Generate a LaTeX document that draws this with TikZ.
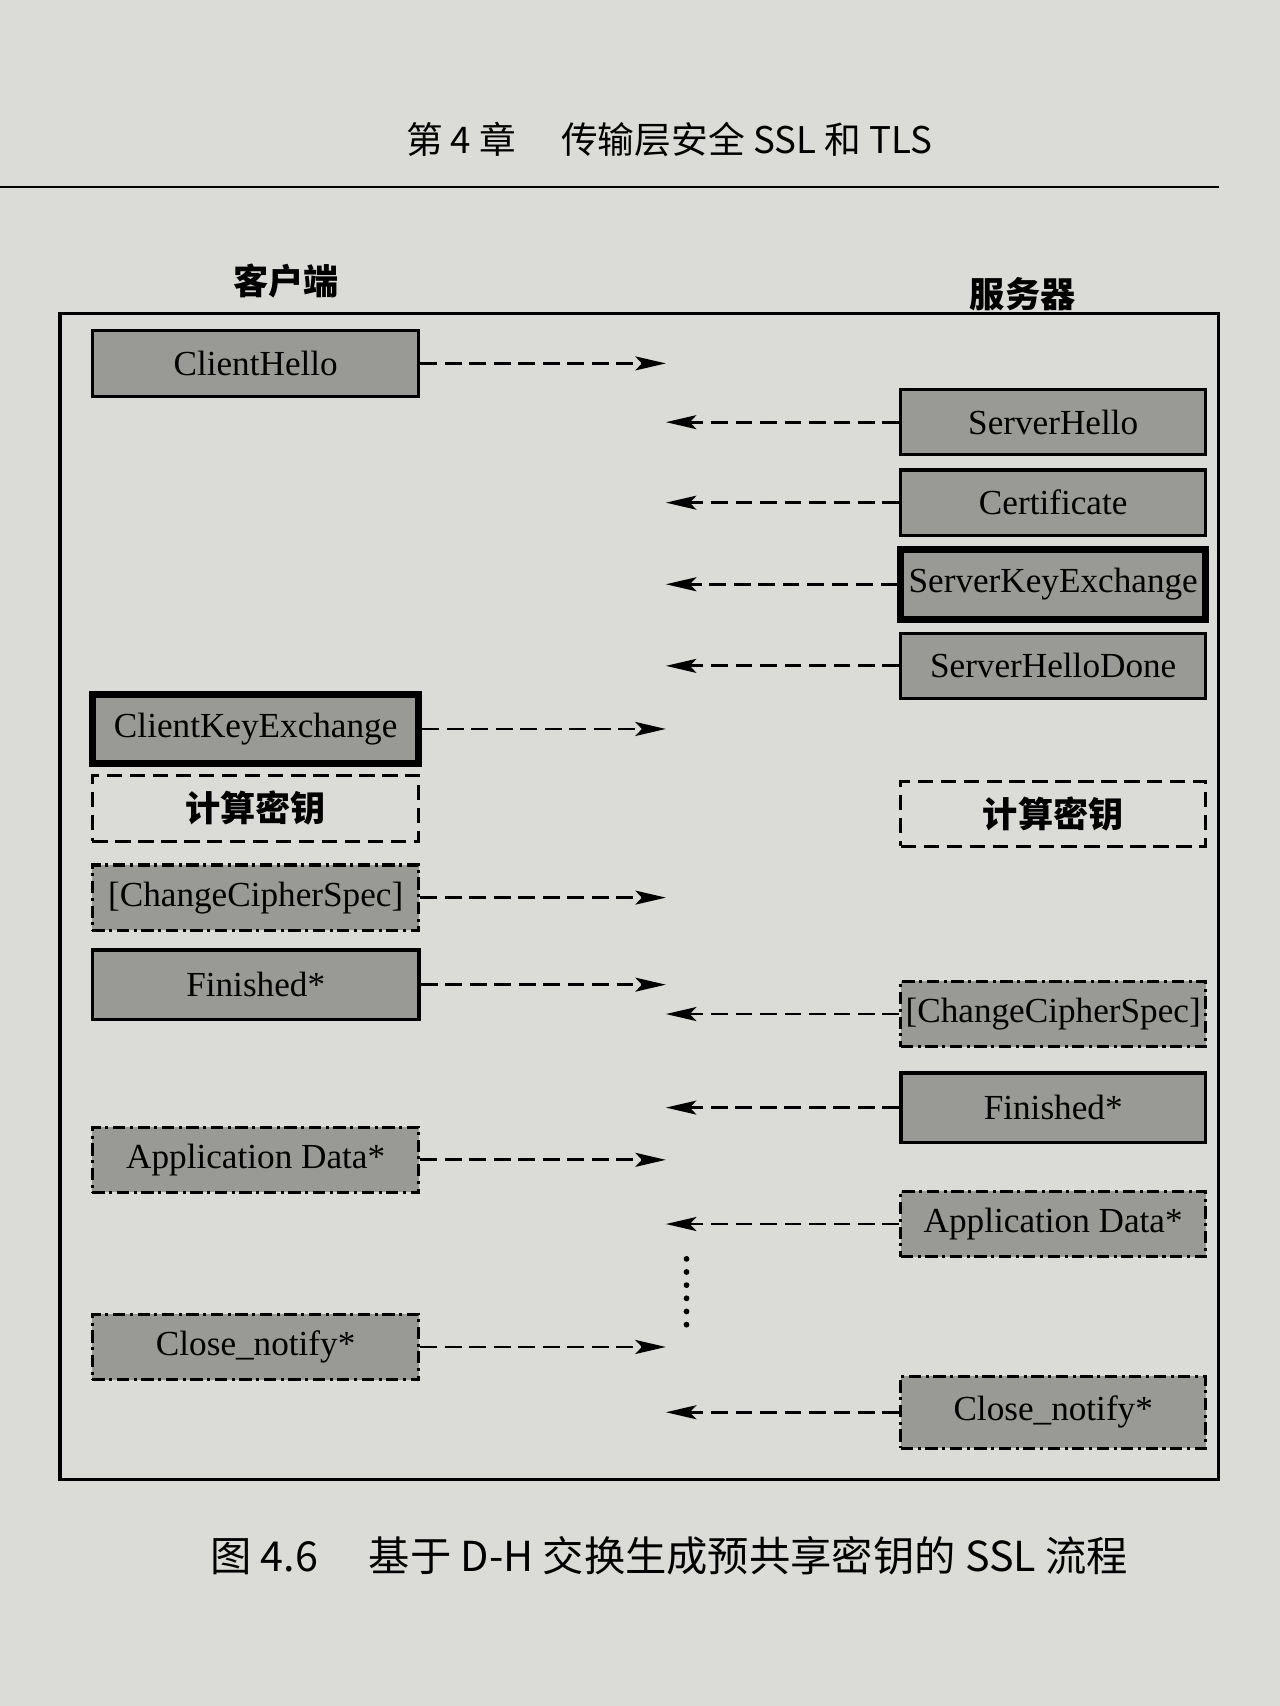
\documentclass[tikz,border=0pt]{standalone}
\usepackage{fontspec}
\setmainfont{Liberation Serif}
\newfontfamily\cjk{Noto Sans CJK SC}
\usetikzlibrary{arrows.meta}

\definecolor{paper}{rgb}{0.86,0.86,0.845}
\definecolor{boxgray}{rgb}{0.6,0.6,0.585}

\tikzset{
  msg/.style={draw, line width=2pt, fill=boxgray, minimum width=7.5cm,
    minimum height=1.5cm, inner sep=0pt, font=\fontsize{23}{27}\selectfont},
  smsg/.style={msg, minimum width=7cm},
  thickbox/.style={line width=4.5pt, minimum height=1.6cm},
  calcbox/.style={fill=none, dash pattern=on 10pt off 5pt,
    font=\fontsize{23}{27}\selectfont\cjk\bfseries},
  dashdot/.style={dash pattern=on 8pt off 3pt on 2pt off 3pt},
  arr/.style={line width=1.9pt, dash pattern=on 11pt off 5pt,
    -{Stealth[length=7mm,width=3.2mm,inset=1.5mm]}},
}

\begin{document}
\begin{tikzpicture}[x=0.025cm,y=-0.025cm]
    \useasboundingbox (0,0) rectangle (1176,1568);
    \fill[paper] (0,0) rectangle (1176,1568);

    % page head
    \node[font=\fontsize{24}{28}\selectfont\cjk] (head) at (615,128) {第 4 章\quad\ 传输层安全 SSL 和 TLS};
    \draw[line width=1pt] (0,172) -- (1120,172);

    \node[font=\fontsize{23}{27}\selectfont\cjk\bfseries] (client) at (263,258) {客户端};
    \node[font=\fontsize{23}{27}\selectfont\cjk\bfseries] (server) at (940,270) {服务器};

    % frame
    \draw[line width=2.2pt] (55,288) rectangle (1120,1360);

    % client side
    \node[msg] (clihello) at (235,334) {ClientHello};
    \node[msg, thickbox] (clikey) at (235,670) {ClientKeyExchange};
    \node[msg, calcbox] (clicalc) at (235,743) {计算密钥};
    \node[msg, dashdot] (clichg) at (235,825) {[ChangeCipherSpec]};
    \node[msg, thickbox, line width=2.4pt] (clifin) at (235,905) {Finished*};
    \node[msg, dashdot] (cliapp) at (235,1066) {Application Data*};
    \node[msg, dashdot] (cliclose) at (235,1238) {Close\_notify*};

    % server side
    \node[smsg] (srvhello) at (968,388) {ServerHello};
    \node[smsg] (srvcert) at (968,462) {Certificate};
    \node[smsg, thickbox] (srvkey) at (968,537) {ServerKeyExchange};
    \node[smsg] (srvdone) at (968,612) {ServerHelloDone};
    \node[smsg, calcbox] (srvcalc) at (968,748) {计算密钥};
    \node[smsg, dashdot] (srvchg) at (968,932) {[ChangeCipherSpec]};
    \node[smsg, thickbox, line width=2.4pt] (srvfin) at (968,1018) {Finished*};
    \node[smsg, dashdot] (srvapp) at (968,1125) {Application Data*};
    \node[smsg, dashdot, minimum height=1.65cm] (srvclose) at (968,1298) {Close\_notify*};

    % messages
    \coordinate (mid) at (612,0);
    \foreach \n in {clihello,clikey,clichg,clifin,cliapp,cliclose}
        \draw[arr] (\n.east) -- (\n.east -| mid);
    \foreach \n in {srvhello,srvcert,srvkey,srvdone,srvchg,srvfin,srvapp,srvclose}
        \draw[arr] (\n.west) -- (\n.west -| mid);

    % more records
    \draw[line width=3.8pt, line cap=round, dash pattern=on 0pt off 8.6pt]
        (631,1157) -- (631,1218);

    \node[font=\fontsize{27}{32}\selectfont\cjk] (caption) at (615,1430) {图 4.6\quad\ 基于 D-H 交换生成预共享密钥的 SSL 流程};
\end{tikzpicture}
\end{document}
